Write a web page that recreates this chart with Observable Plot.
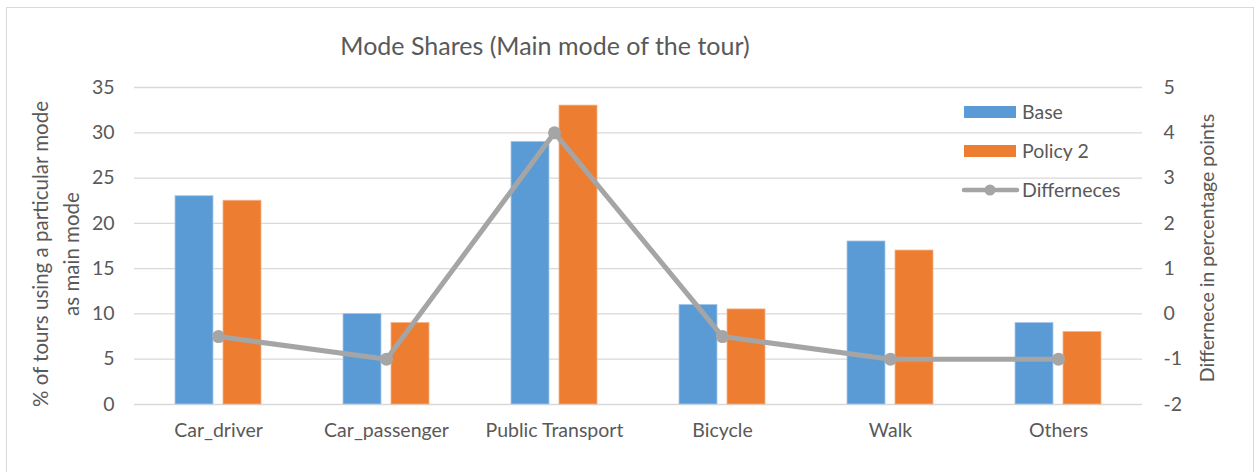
<!DOCTYPE html>
<html>
<head>
<meta charset="utf-8">
<script src="https://cdn.jsdelivr.net/npm/d3@7"></script>
<script src="https://cdn.jsdelivr.net/npm/@observablehq/plot@0.6"></script>
<style>
  html, body { margin: 0; padding: 0; background: #fff; }
  #wrap { position: relative; width: 1258px; height: 472px; overflow: hidden; font-family: Lato, sans-serif; color: #595959; }
  #frame { position: absolute; left: 6px; top: 7px; width: 1248px; height: 470px; border: 1px solid #d9d9d9; box-sizing: border-box; }
  #title { position: absolute; left: 0; width: 1090px; top: 30px; text-align: center; font-size: 25px; line-height: 30px; }
  #legend { position: absolute; left: 960px; top: 96px; font-size: 19.5px; }
  .li { position: absolute; left: 0; height: 24px; width: 200px; }
  .li svg { position: absolute; left: 0; top: 0; }
  .li span { position: absolute; left: 62px; top: 0; line-height: 24px; white-space: nowrap; }
  #chart { position: absolute; left: 0; top: 0; }
</style>
</head>
<body>
<div id="wrap">
  <div id="frame"></div>
  <div id="chart"></div>
  <div id="title">Mode Shares (Main mode of the tour)</div>
  <div id="legend"></div>
</div>
<script>
const categories = ["Car_driver", "Car_passenger", "Public Transport", "Bicycle", "Walk", "Others"];
const baseValues = [23, 10, 29, 11, 18, 9];
const policyValues = [22.5, 9, 33, 10.5, 17, 8];
const differences = [-0.5, -1, 4, -0.5, -1, -1];
const leftTicks = [0, 5, 10, 15, 20, 25, 30, 35];
const rightTicks = [-2, -1, 0, 1, 2, 3, 4, 5];
const seriesNames = ["Base", "Policy 2", "Differneces"];
const colors = ["#5b9bd5", "#ed7d31", "#a5a5a5"];

// right axis (-2..5) mapped onto left axis (0..35)
const toLeft = d => (d + 2) * 5;
const toRight = v => v / 5 - 2;

const baseData = categories.map((c, i) => ({cat: c, v: baseValues[i]}));
const policyData = categories.map((c, i) => ({cat: c, v: policyValues[i]}));
const diffData = categories.map((c, i) => ({cat: c, v: toLeft(differences[i])}));

const plot = Plot.plot({
  width: 1258,
  height: 472,
  marginLeft: 134,
  marginRight: 116,
  marginTop: 87,
  marginBottom: 68,
  style: {fontFamily: "Lato, sans-serif", fontSize: "19.5px", color: "#595959", background: "transparent"},
  x: {type: "band", domain: categories, padding: 0},
  y: {domain: [0, 35]},
  marks: [
    Plot.gridY(leftTicks, {stroke: "#d9d9d9", strokeOpacity: 1, strokeWidth: 1.3}),
    Plot.barY(baseData, {x: "cat", y: "v", fill: colors[0], stroke: "#a9c9ec", strokeWidth: 0.8, insetLeft: 41, insetRight: 89}),
    Plot.barY(policyData, {x: "cat", y: "v", fill: colors[1], stroke: "#f5b28a", strokeWidth: 0.8, insetLeft: 89, insetRight: 41}),
    Plot.line(diffData, {x: "cat", y: "v", stroke: colors[2], strokeWidth: 5}),
    Plot.dot(diffData, {x: "cat", y: "v", fill: colors[2], r: 6.5}),
    Plot.axisY(leftTicks, {anchor: "left", tickSize: 0, tickPadding: 20, label: null, fill: "#595959"}),
    Plot.axisY(leftTicks, {anchor: "right", tickSize: 0, tickPadding: 21, label: null, tickFormat: v => String(toRight(v)), fill: "#595959"}),
    Plot.axisX({tickSize: 0, tickPadding: 19, label: null, fill: "#595959"}),
    Plot.text(["% of tours using a particular mode\nas main mode"], {frameAnchor: "left", textAnchor: "middle", dx: -81, dy: 8, rotate: -90, fontSize: 20.5, fill: "#595959", lineHeight: 1.5}),
    Plot.text(["Differnece in percentage points"], {frameAnchor: "right", textAnchor: "middle", dx: 65, dy: 2, rotate: -90, fontSize: 19.5, fill: "#595959"})
  ]
});
document.getElementById("chart").appendChild(plot);

// legend
const legend = document.getElementById("legend");
const rows = [
  {name: seriesNames[0], color: colors[0], type: "bar", top: 4},
  {name: seriesNames[1], color: colors[1], type: "bar", top: 43},
  {name: seriesNames[2], color: colors[2], type: "line", top: 82}
];
for (const r of rows) {
  const div = document.createElement("div");
  div.className = "li";
  div.style.top = r.top + "px";
  const sw = r.type === "bar"
    ? `<svg width="60" height="24"><rect x="4" y="6" width="52" height="12" fill="${r.color}"/></svg>`
    : `<svg width="60" height="24"><line x1="4" x2="57" y1="12" y2="12" stroke="${r.color}" stroke-width="4.5" stroke-linecap="round"/><circle cx="30" cy="12" r="5.5" fill="${r.color}"/></svg>`;
  div.innerHTML = sw + `<span>${r.name}</span>`;
  legend.appendChild(div);
}
</script>
</body>
</html>
